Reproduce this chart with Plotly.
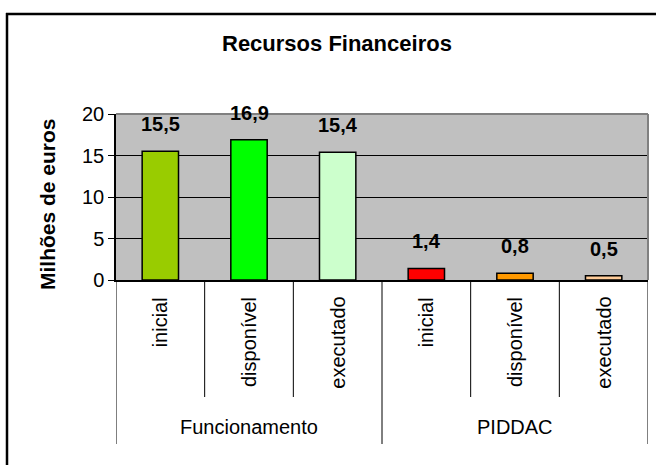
import plotly.graph_objects as go

# ---- data ----
groups = ["Funcionamento", "PIDDAC"]
subcats = ["inicial", "disponível", "executado", "inicial", "disponível", "executado"]
group_of = ["Funcionamento", "Funcionamento", "Funcionamento", "PIDDAC", "PIDDAC", "PIDDAC"]
values = [15.5, 16.9, 15.4, 1.4, 0.8, 0.5]
bar_colors = ["#99CC00", "#00FF00", "#CCFFCC", "#FF0000", "#FF9900", "#FFCC99"]
y_ticks = [0, 5, 10, 15, 20]
title = "Recursos Financeiros"
y_title = "Milhões de euros"

W, H = 656, 465
FONT = "Liberation Sans, Arial, sans-serif"

def px_x(p):
    return p / W

def px_y(p):
    return 1 - p / H

plot_l, plot_r, plot_t, plot_b = 116, 648, 114, 280

xs = list(range(len(values)))

fig = go.Figure()
fig.add_trace(go.Bar(
    x=xs, y=values, width=0.41,
    marker=dict(color=bar_colors, line=dict(color="black", width=1.5)),
    hoverinfo="skip",
))

annotations = []
# value labels
for x, v in zip(xs, values):
    annotations.append(dict(
        x=x, y=v, xref="x", yref="y", text=f"{v:.1f}".replace(".", ","),
        showarrow=False, yanchor="bottom", yshift=14,
        font=dict(family=FONT, size=20, color="black", weight="bold"),
    ))
# rotated sub-category labels
for x, s in zip(xs, subcats):
    annotations.append(dict(
        x=x, y=0, xref="x", yref="y", text=s, textangle=-90,
        showarrow=False, yanchor="top", yshift=-15,
        font=dict(family=FONT, size=20, color="black"),
    ))
# group labels
for g in groups:
    idx = [i for i, gg in enumerate(group_of) if gg == g]
    annotations.append(dict(
        x=sum(idx) / len(idx), y=px_y(427), xref="x", yref="paper", text=g,
        showarrow=False, yanchor="middle",
        font=dict(family=FONT, size=20, color="black"),
    ))
# title
annotations.append(dict(
    x=px_x(337), y=px_y(44), xref="paper", yref="paper", text=title,
    showarrow=False, xanchor="center", yanchor="middle",
    font=dict(family=FONT, size=22, color="black", weight="bold"),
))
# y axis title
annotations.append(dict(
    x=px_x(47), y=px_y(204), xref="paper", yref="paper", text=y_title,
    textangle=-90, showarrow=False, xanchor="center", yanchor="middle",
    font=dict(family=FONT, size=21, color="black", weight="bold"),
))

shapes = []
# outer chart border: top and left edges (right/bottom lie outside the picture)
shapes.append(dict(type="line", xref="paper", yref="paper",
                   x0=px_x(6), x1=1, y0=px_y(14), y1=px_y(14),
                   line=dict(color="black", width=2.5), layer="above"))
shapes.append(dict(type="line", xref="paper", yref="paper",
                   x0=px_x(7), x1=px_x(7), y0=px_y(13), y1=0,
                   line=dict(color="black", width=2.5), layer="above"))
# plot area top/right gray border
shapes.append(dict(type="line", xref="x domain", yref="y domain",
                   x0=0, x1=1, y0=1, y1=1, line=dict(color="#808080", width=2)))
shapes.append(dict(type="line", xref="x domain", yref="y domain",
                   x0=1, x1=1, y0=0, y1=1, line=dict(color="#808080", width=2)))
# category separators
n = len(values)
for i in range(n + 1):
    b = i - 0.5
    outer = (i == 0 or i == n or group_of[i - 1] != group_of[i])
    y_end = 444 if outer else 397
    shapes.append(dict(type="line", xref="x", yref="paper",
                       x0=b, x1=b, y0=px_y(plot_b), y1=px_y(y_end),
                       line=dict(color="black", width=1)))

fig.update_layout(
    width=W, height=H,
    margin=dict(l=0, r=0, t=0, b=0, pad=0, autoexpand=False),
    paper_bgcolor="white",
    plot_bgcolor="#C0C0C0",
    showlegend=False,
    annotations=annotations,
    shapes=shapes,
    xaxis=dict(
        domain=[px_x(plot_l), px_x(plot_r)],
        range=[-0.5, n - 0.5], showticklabels=False, ticks="",
        showgrid=False, zeroline=False, automargin=False,
        showline=True, linecolor="black", linewidth=1.5,
        fixedrange=True,
    ),
    yaxis=dict(
        domain=[px_y(plot_b), px_y(plot_t)],
        range=[0, 20], tickvals=y_ticks, ticks="outside", ticklen=6,
        tickcolor="black", tickwidth=1, automargin=False,
        showgrid=True, gridcolor="black", gridwidth=1,
        zeroline=False, showline=True, linecolor="black", linewidth=1.5,
        tickfont=dict(family=FONT, size=20, color="black"),
        fixedrange=True,
    ),
)

fig.write_html(
    "out.html",
    config={"displayModeBar": False},
    post_script="document.body.style.margin='0';document.body.style.overflow='hidden';",
)
